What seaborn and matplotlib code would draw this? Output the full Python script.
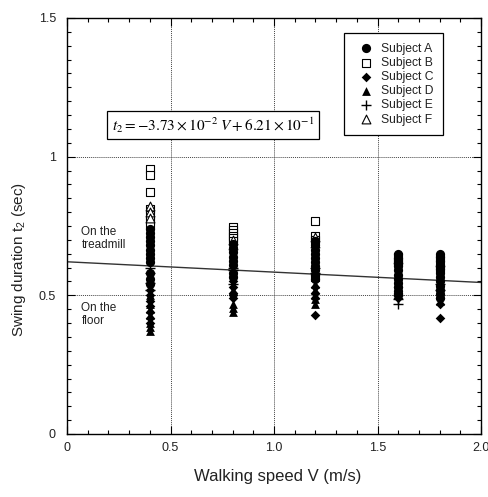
import matplotlib
matplotlib.use("Agg")
import matplotlib.pyplot as plt
from matplotlib.ticker import MultipleLocator, FixedLocator, FixedFormatter
import seaborn as sns
import pandas as pd

# Walking speeds tested (m/s)
speeds = [0.4, 0.8, 1.2, 1.6, 1.8]

# Swing duration t2 (sec) for each subject, one list per walking speed
subject_a = [
    [0.54, 0.56, 0.58, 0.62, 0.635, 0.65, 0.665, 0.68, 0.695, 0.71, 0.725, 0.74],
    [0.565, 0.58, 0.61, 0.625, 0.64, 0.655, 0.67, 0.685],
    [0.56, 0.575, 0.59, 0.605, 0.62, 0.635, 0.65, 0.665, 0.68, 0.695],
    [0.50, 0.515, 0.53, 0.545, 0.56, 0.575, 0.59, 0.605, 0.62, 0.635, 0.65],
    [0.49, 0.505, 0.52, 0.535, 0.55, 0.565, 0.58, 0.595, 0.61, 0.625, 0.64, 0.65],
]
subject_b = [
    [0.955, 0.935, 0.873, 0.81, 0.79, 0.77, 0.755],
    [0.745, 0.735, 0.725, 0.715, 0.705, 0.695],
    [0.768, 0.715, 0.70, 0.565],
    [0.64, 0.62],
    [0.63, 0.60],
]
subject_c = [
    [0.52, 0.50, 0.48, 0.46, 0.44, 0.42, 0.40],
    [0.55, 0.53, 0.51, 0.49, 0.50],
    [0.53, 0.51, 0.49, 0.43],
    [0.49, 0.51, 0.53],
    [0.47, 0.49, 0.418],
]
subject_d = [
    [0.37, 0.385, 0.40, 0.43, 0.45, 0.47, 0.50],
    [0.44, 0.455, 0.47, 0.52],
    [0.47, 0.485, 0.50, 0.52, 0.54],
    [0.50, 0.52],
    [0.48, 0.50],
]
subject_e = [
    [0.52, 0.545, 0.58, 0.60],
    [0.54, 0.59, 0.60],
    [0.58, 0.60],
    [0.47, 0.485, 0.50],
    [0.52, 0.54],
]
subject_f = [
    [0.822, 0.80, 0.78],
    [0.70, 0.68],
    [0.71, 0.69],
    [0.63],
    [0.62],
]

subject_names = ["Subject A", "Subject B", "Subject C", "Subject D", "Subject E", "Subject F"]

# Fitted regression t2 = slope * V + intercept
slope = -3.73e-2
intercept = 6.21e-1
fit_speed = [0.0, 2.0]

x_ticks = [0, 0.5, 1.0, 1.5, 2.0]
x_tick_labels = ["0", "0.5", "1.0", "1.5", "2.0"]
y_ticks = [0, 0.5, 1.0, 1.5]
y_tick_labels = ["0", "0.5", "1", "1.5"]


def to_frame(per_speed):
    rows = []
    for v, values in zip(speeds, per_speed):
        for t in values:
            rows.append((v, t))
    return pd.DataFrame(rows, columns=["speed", "swing"])


sns.set_style("ticks")
plt.rcParams["font.family"] = ["Liberation Sans", "DejaVu Sans"]
plt.rcParams["mathtext.fontset"] = "stix"

text_color = "#222222"

fig = plt.figure(figsize=(4.88, 4.97), dpi=100)
ax = fig.add_axes([67 / 488, (497 - 434) / 497, 414 / 488, 416 / 497])

# Open markers first, filled markers on top
styles = {
    "Subject B": dict(marker="s", s=34, facecolor="white", edgecolor="black", linewidth=0.8),
    "Subject F": dict(marker="^", s=40, facecolor="white", edgecolor="black", linewidth=0.8),
    "Subject A": dict(marker="o", s=44, color="black", edgecolor="black", linewidth=0),
    "Subject C": dict(marker="D", s=24, color="black", edgecolor="black", linewidth=0),
    "Subject D": dict(marker="^", s=40, color="black", edgecolor="black", linewidth=0),
    "Subject E": dict(marker="+", s=55, color="black", linewidth=1.0),
}
data = {
    "Subject A": subject_a,
    "Subject B": subject_b,
    "Subject C": subject_c,
    "Subject D": subject_d,
    "Subject E": subject_e,
    "Subject F": subject_f,
}

handles = {}
for name in ["Subject B", "Subject F", "Subject A", "Subject C", "Subject D", "Subject E"]:
    df = to_frame(data[name])
    sns.scatterplot(data=df, x="speed", y="swing", ax=ax, legend=False, zorder=3, **styles[name])
    handles[name] = ax.collections[-1]

# Regression line
fit_df = pd.DataFrame({"speed": fit_speed, "swing": [slope * v + intercept for v in fit_speed]})
sns.lineplot(data=fit_df, x="speed", y="swing", ax=ax, color="#333333", linewidth=1.0, zorder=2)

ax.set_xlim(0, 2.0)
ax.set_ylim(0, 1.5)
ax.xaxis.set_major_locator(FixedLocator(x_ticks))
ax.xaxis.set_major_formatter(FixedFormatter(x_tick_labels))
ax.yaxis.set_major_locator(FixedLocator(y_ticks))
ax.yaxis.set_major_formatter(FixedFormatter(y_tick_labels))
ax.xaxis.set_minor_locator(MultipleLocator(0.1))
ax.yaxis.set_minor_locator(MultipleLocator(0.05))
ax.tick_params(which="both", direction="in", top=True, right=True, colors="black",
               labelcolor=text_color, labelsize=9, width=0.8)
ax.tick_params(which="major", length=6)
ax.tick_params(which="minor", length=3)
ax.tick_params(axis="y", pad=8)
ax.tick_params(axis="x", pad=6)
ax.grid(True, which="major", linestyle=(0, (1, 1)), color="#444444", linewidth=0.7)
for sp in ax.spines.values():
    sp.set_color("black")
    sp.set_linewidth(1.0)

ax.set_xlabel("Walking speed V (m/s)", fontsize=12, color=text_color)
ax.xaxis.set_label_coords(0.51, -0.085)
ax.set_ylabel(r"Swing duration $\mathregular{t_2}$ (sec)", fontsize=11, color=text_color)
ax.yaxis.set_label_coords(-0.094, 0.42)

ax.text(0.07, 0.75, "On the\ntreadmill", fontsize=8.5, color=text_color, va="top", linespacing=1.1)
ax.text(0.07, 0.475, "On the\nfloor", fontsize=8.5, color=text_color, va="top", linespacing=1.1)

ax.text(0.705, 1.114, r"$t_2 = -3.73\times10^{-2}\;V + 6.21\times10^{-1}$",
        fontsize=11, ha="center", va="center", color="black", zorder=5,
        bbox=dict(boxstyle="square,pad=0.3", facecolor="white", edgecolor="black", linewidth=0.9))

leg = ax.legend([handles[n] for n in subject_names], subject_names,
                loc="upper right", bbox_to_anchor=(0.908, 0.964), borderaxespad=0,
                fontsize=8.7, frameon=True, fancybox=False, framealpha=1,
                edgecolor="black", handletextpad=0.25, labelspacing=0.18,
                borderpad=0.8, handlelength=2.0)
leg.get_frame().set_linewidth(0.9)
for t in leg.get_texts():
    t.set_color(text_color)
leg.set_zorder(6)

fig.savefig("out.png", dpi=100)
